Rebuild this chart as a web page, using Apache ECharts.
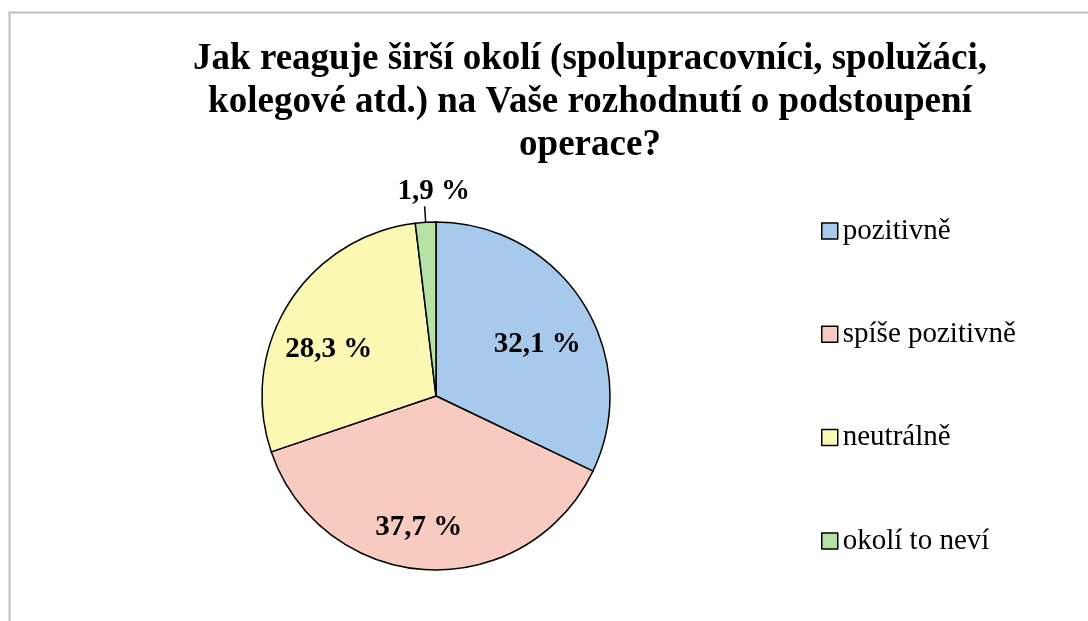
<!DOCTYPE html>
<html>
<head>
<meta charset="utf-8">
<script src="https://cdn.jsdelivr.net/npm/echarts@6/dist/echarts.min.js"></script>
<style>
  html, body { margin: 0; padding: 0; background: #fff; }
  #chart { width: 1088px; height: 621px; }
</style>
</head>
<body>
<div id="chart"></div>
<script>
const titleLines = [
  'Jak reaguje širší okolí (spolupracovníci, spolužáci,',
  'kolegové atd.) na Vaše rozhodnutí o podstoupení',
  'operace?'
];
const categories = ['pozitivně', 'spíše pozitivně', 'neutrálně', 'okolí to neví'];
const percents = [32.1, 37.7, 28.3, 1.9];
const colors = ['#a7caec', '#f8cbc1', '#fbf8b4', '#b6e3a5'];
// small nudges so the inside labels sit like excel's "best fit"
const labelNudge = [[25, -3], [-12, 42], [-31, 2], [0, 0]];

const serif = "'Liberation Serif', 'Times New Roman', serif";
const chart = echarts.init(document.getElementById('chart'));

const pieData = categories.map((name, i) => {
  const item = { name: name, value: percents[i], itemStyle: { color: colors[i] } };
  if (i === 3) {
    // tiny slice -> label outside with a short leader line
    item.label = { position: 'outside', distanceToLabelLine: 0, padding: [0, 0, 0, 18] };
    item.labelLine = { show: true, length: 16, length2: 0, lineStyle: { color: '#000', width: 1.5 } };
  }
  return item;
});

const option = {
  animation: false,
  backgroundColor: '#fff',
  graphic: [{
    type: 'rect',
    shape: { x: 9.5, y: 12.5, width: 1200, height: 800 },
    style: { fill: 'none', stroke: '#bfbfbf', lineWidth: 2 },
    silent: true
  }],
  title: {
    text: titleLines.join('\n'),
    left: 590,
    top: 38,
    textAlign: 'center',
    padding: 0,
    textStyle: {
      fontFamily: serif,
      fontSize: 37,
      fontWeight: 'bold',
      color: '#000',
      lineHeight: 43
    }
  },
  legend: {
    orient: 'vertical',
    left: 821,
    top: 216,
    padding: 0,
    itemWidth: 16,
    itemHeight: 16,
    itemGap: 73.3,
    icon: 'rect',
    itemStyle: { borderColor: '#000', borderWidth: 1.5 },
    textStyle: { fontFamily: serif, fontSize: 29, lineHeight: 30, color: '#000' },
    data: categories
  },
  series: [{
    type: 'pie',
    center: [436, 396],
    radius: 174,
    startAngle: 90,
    clockwise: true,
    avoidLabelOverlap: false,
    itemStyle: { borderColor: '#000', borderWidth: 1.5 },
    emphasis: { disabled: true },
    label: {
      show: true,
      position: 'inside',
      fontFamily: serif,
      fontSize: 29,
      fontWeight: 'bold',
      color: '#000',
      formatter: p => p.value.toFixed(1).replace('.', ',') + ' %'
    },
    labelLine: { show: false },
    labelLayout: function (params) {
      const i = params.dataIndex;
      if (i === 3) {
        return { align: 'center', verticalAlign: 'bottom' };
      }
      return { dx: labelNudge[i][0], dy: labelNudge[i][1] };
    },
    data: pieData
  }]
};

chart.setOption(option);
</script>
</body>
</html>
